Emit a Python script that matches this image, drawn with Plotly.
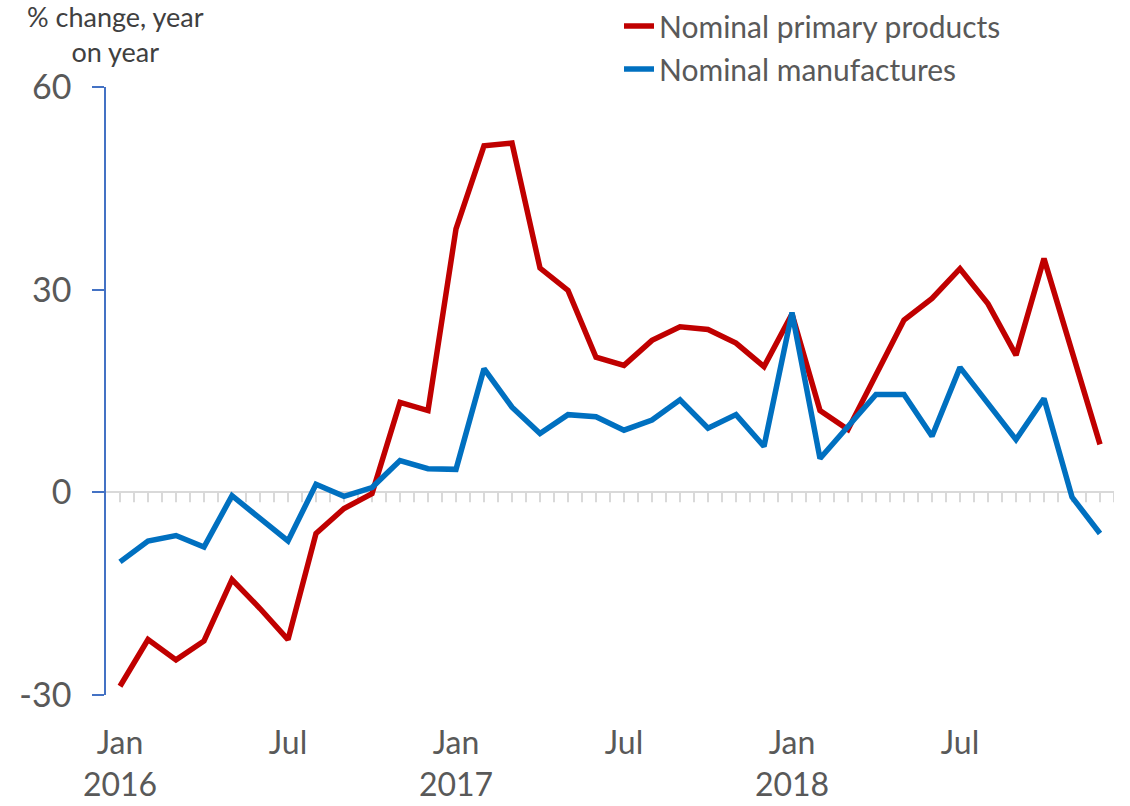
import plotly.graph_objects as go

months = ["Jan 2016", "Feb 2016", "Mar 2016", "Apr 2016", "May 2016", "Jun 2016",
          "Jul 2016", "Aug 2016", "Sep 2016", "Oct 2016", "Nov 2016", "Dec 2016",
          "Jan 2017", "Feb 2017", "Mar 2017", "Apr 2017", "May 2017", "Jun 2017",
          "Jul 2017", "Aug 2017", "Sep 2017", "Oct 2017", "Nov 2017", "Dec 2017",
          "Jan 2018", "Feb 2018", "Mar 2018", "Apr 2018", "May 2018", "Jun 2018",
          "Jul 2018", "Aug 2018", "Sep 2018", "Oct 2018", "Nov 2018", "Dec 2018"]

primary = [-28.7, -21.8, -24.8, -22.0, -12.9, -17.2, -21.8, -6.1, -2.4, -0.2, 13.3, 12.1,
           39.0, 51.3, 51.7, 33.2, 29.9, 20.0, 18.8, 22.5, 24.5, 24.1, 22.1, 18.6,
           26.4, 12.1, 9.3, 17.4, 25.5, 28.7, 33.1, 27.9, 20.3, 34.6, 21.0, 7.1]

manufactures = [-10.3, -7.2, -6.4, -8.1, -0.5, -3.9, -7.2, 1.2, -0.6, 0.7, 4.7, 3.5,
                3.4, 18.3, 12.6, 8.7, 11.5, 11.2, 9.2, 10.7, 13.7, 9.5, 11.5, 6.8,
                26.6, 5.0, 9.8, 14.5, 14.5, 8.3, 18.5, 13.1, 7.8, 13.9, -0.7, -6.1]

tick_vals = ["Jan 2016", "Jul 2016", "Jan 2017", "Jul 2017", "Jan 2018", "Jul 2018"]
tick_text = ["Jan<br>2016", "Jul", "Jan<br>2017", "Jul", "Jan<br>2018", "Jul"]

y_ticks = [-30, 0, 30, 60]
y_tick_text = ["-30", "0", "30", "60"]

FONT = "Lato"
TXT = "#595959"

fig = go.Figure()
fig.add_trace(go.Scatter(x=months, y=primary, mode="lines", name="Nominal primary products",
                         line=dict(color="#C00000", width=5.5), legendgroup="a"))
fig.add_trace(go.Scatter(x=months, y=manufactures, mode="lines", name="Nominal manufactures",
                         line=dict(color="#0070C0", width=5.5), legendgroup="b"))

# minor tick marks hanging from the zero line
shapes = []
n = len(months)
for k in range(0, 2 * n):
    xv = k * 0.5
    shapes.append(dict(type="line", xref="x", yref="y", ysizemode="pixel", yanchor=0,
                       x0=xv, x1=xv, y0=0, y1=-10, layer="below",
                       line=dict(color="#D9D9D9", width=2)))

PW, PH = 1008, 608
fig.update_layout(
    width=1130, height=806,
    margin=dict(l=106, r=16, t=87, b=111, autoexpand=False),
    paper_bgcolor="white", plot_bgcolor="white",
    font=dict(family=FONT, color=TXT),
    shapes=shapes,
    showlegend=True,
    legend=dict(x=(619 - 106) / PW, xanchor="left", y=1 + (87 - 0) / PH, yanchor="top",
                font=dict(size=30, color=TXT, family=FONT), bgcolor="rgba(0,0,0,0)",
                tracegroupgap=1, itemwidth=30),
    xaxis=dict(type="category", range=[-0.5, n - 0.5], tickmode="array",
               tickvals=tick_vals, ticktext=tick_text, showline=False, ticks="",
               ticklabelstandoff=26,
               showgrid=False, zeroline=False, tickfont=dict(size=32, color=TXT, family=FONT)),
    yaxis=dict(range=[-30, 60], tickmode="array", tickvals=y_ticks, ticktext=y_tick_text,
               showgrid=False,
               zeroline=True, zerolinecolor="#D9D9D9", zerolinewidth=2,
               showline=True, linecolor="#4472C4", linewidth=1.5,
               ticks="outside", ticklen=12, tickcolor="#4472C4", tickwidth=1.5,
               ticklabelstandoff=14,
               tickfont=dict(size=34, color=TXT, family=FONT)),
    annotations=[dict(text="% change, year<br>on year", xref="paper", yref="paper",
                      x=(115 - 106) / PW, y=1 + (87 + 2) / PH, xanchor="center", yanchor="top",
                      showarrow=False, align="center",
                      font=dict(size=27, color="#404040", family=FONT))],
)

fig.write_html("out.html")
